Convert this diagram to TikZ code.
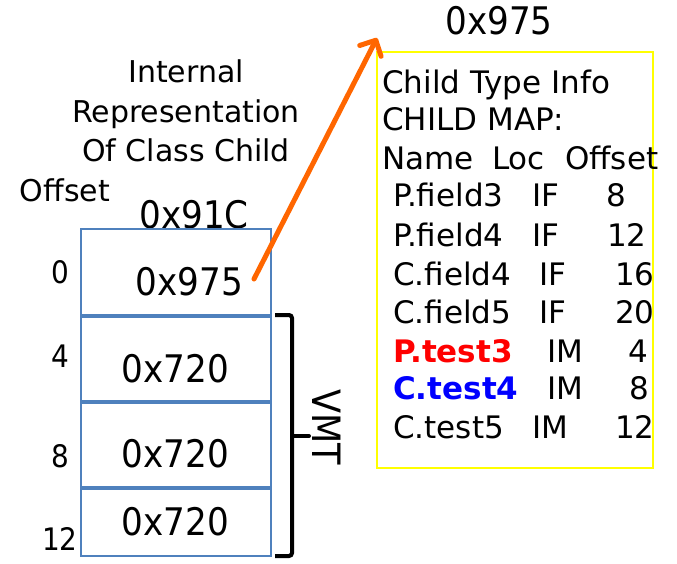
\documentclass[tikz,border=0pt]{standalone}
\usepackage{fontspec}
\setmainfont{DejaVu Sans}
\newfontfamily\condf{DejaVu Sans Condensed}
\usetikzlibrary{arrows.meta}
\definecolor{cellblue}{HTML}{4F81BD}
\definecolor{arroworange}{HTML}{FF6600}
\definecolor{boxyellow}{HTML}{FFFF00}
\definecolor{testred}{HTML}{FF0000}
\definecolor{testblue}{HTML}{0000FF}
\begin{document}
\begin{tikzpicture}[x=1pt,y=-1pt,
  big/.style={font=\condf\fontsize{38}{40}\selectfont, inner sep=0pt, anchor=base},
  offs/.style={font=\condf\fontsize{31}{33}\selectfont, inner sep=0pt, anchor=base},
  lbl/.style={font=\fontsize{30}{32}\selectfont, inner sep=0pt, anchor=base},
  row/.style={font=\fontsize{31}{33}\selectfont, inner sep=0pt, anchor=base west},
  cell/.style={draw=cellblue, line width=1.5pt, minimum width=190pt, inner sep=0pt},
  divider/.style={cellblue, line width=4.5pt},
  bracket/.style={line width=4pt, rounded corners=3pt},
]
\useasboundingbox (0,0) rectangle (677,564);

% title labels
\node[lbl] (t1) at (186,83) {Internal};
\node[lbl] (t2) at (186,123) {Representation};
\node[lbl] (t3) at (186,162) {Of Class Child};
\node[lbl] (offsethead) at (65,202) {Offset};
\node[big] (addr) at (194,228) {0x91C};

% memory cells
\node[cell, minimum height=86pt] (c0) at (176,272) {};
\node[cell, minimum height=86pt] (c1) at (176,358) {};
\node[cell, minimum height=86pt] (c2) at (176,444) {};
\node[cell, minimum height=69pt] (c3) at (176,521.5) {};
\draw[divider] (c0.south west) -- (c0.south east);
\draw[divider] (c1.south west) -- (c1.south east);
\draw[divider] (c2.south west) -- (c2.south east);

\node[big] (v0) at (189.5,295) {0x975};
\node[big] (v1) at (175.5,382) {0x720};
\node[big] (v2) at (175.5,467) {0x720};
\node[big] (v3) at (175.5,535) {0x720};

\node[offs] (o0) at (60,283) {0};
\node[offs] (o1) at (60,367) {4};
\node[offs] (o2) at (60,467) {8};
\node[offs] (o3) at (60,550) {12};

% VMT bracket
\coordinate (bt) at (275,315);
\coordinate (bb) at (275,556);
\draw[bracket] (bt) -- (292,315) -- (292,556) -- (bb);
\coordinate (bm) at (292,436);
\coordinate (bmr) at (309,436);
\draw[line width=4pt, line cap=round] (bm) -- (bmr);
\node[font=\condf\fontsize{39}{41}\selectfont, inner sep=0pt, rotate=-90] (vmt) at (327,427) {VMT};

% type info box
\node[draw=boxyellow, line width=2pt, minimum width=276pt, minimum height=416pt, inner sep=0pt] (tib) at (515,260) {};
\node[big] (tiaddr) at (499,35) {0x975};

\node[row] (r0) at (382,94) {Child Type Info};
\node[row] (r1) at (382,131) {CHILD MAP:};
\node[row] (r2a) at (382,170) {Name};
\node[row] (r2b) at (492,170) {Loc};
\node[row] (r2c) at (565,170) {Offset};

\node[row] (r3a) at (393,207) {P.field3};
\node[row] (r3b) at (532,207) {IF};
\node[row] (r3c) at (606,207) {8};

\node[row] (r4a) at (393,246) {P.field4};
\node[row] (r4b) at (532,246) {IF};
\node[row] (r4c) at (607,246) {12};

\node[row] (r5a) at (393,285) {C.field4};
\node[row] (r5b) at (539,285) {IF};
\node[row] (r5c) at (615,285) {16};

\node[row] (r6a) at (393,323) {C.field5};
\node[row] (r6b) at (539,323) {IF};
\node[row] (r6c) at (615,323) {20};

\node[row, text=testred, font=\bfseries\fontsize{31}{33}\selectfont] (r7a) at (393,362) {P.test3};
\node[row] (r7b) at (547,362) {IM};
\node[row] (r7c) at (628,362) {4};

\node[row, text=testblue, font=\bfseries\fontsize{31}{33}\selectfont] (r8a) at (393,399) {C.test4};
\node[row] (r8b) at (547,399) {IM};
\node[row] (r8c) at (629,399) {8};

\node[row] (r9a) at (393,438) {C.test5};
\node[row] (r9b) at (532,438) {IM};
\node[row] (r9c) at (615,438) {12};

% pointer arrow
\coordinate (pstart) at (254,279);
\coordinate (ptip) at ([shift={(1,-13)}]tib.north west);
\draw[arroworange, line width=5pt, line cap=round,
  -{Straight Barb[round, length=12pt, width=24pt]}] (pstart) -- (ptip);
\end{tikzpicture}
\end{document}
